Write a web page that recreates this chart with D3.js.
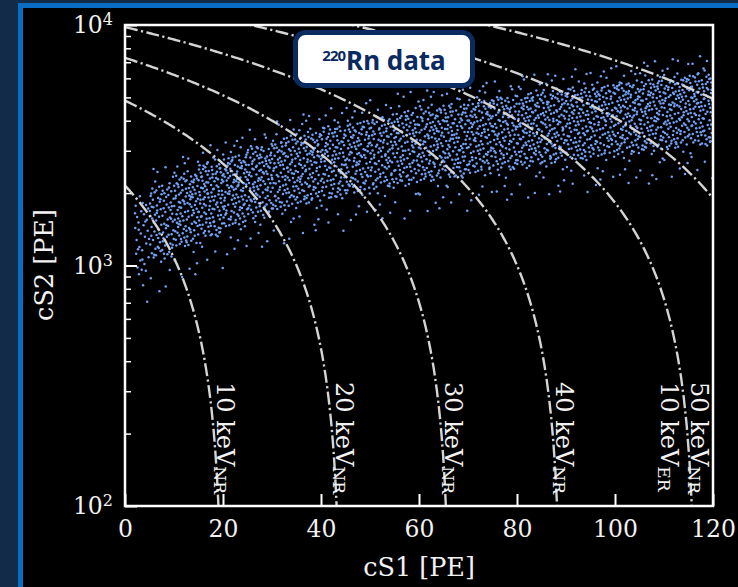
<!DOCTYPE html>
<html><head><meta charset="utf-8">
<script src="https://cdn.jsdelivr.net/npm/d3@7"></script>
<style>html,body{margin:0;padding:0;background:#112b49;overflow:hidden}</style>
</head><body><svg id="c" width="738" height="587"></svg>
<script>
// ---- data ----
const xTickValues = [0, 20, 40, 60, 80, 100, 120];
const yMajorTicks = [100, 1000, 10000];
const yMajorExponents = ["2", "3", "4"];
const yMinorTicks = [200,300,400,500,600,700,800,900,2000,3000,4000,5000,6000,7000,8000,9000];

// energy contours: straight lines cS2 = s2AtZero * (1 - cS1 / s1AtZero)
const contourEnergy   = ["10", "20", "30", "40", "50", "60", "70"];
const contourLabelled = [true, true, true, true, true, false, false];
const contourS2AtZero = [2150, 4850, 7300, 9800, 12830, 15100, 18130];
const contourS1AtZero = [20.0, 44.1, 66.4, 89.1, 116.6, 137.3, 164.8];

// scatter band of 220Rn events, summarised per cS1 bin
const bandS1Start = [2, 5, 10, 15, 20, 25, 30, 35, 40, 45, 50, 55, 60, 65, 70, 75, 80, 85, 90, 95, 100, 105, 110, 115];
const bandS1End   = [5, 10, 15, 20, 25, 30, 35, 40, 45, 50, 55, 60, 65, 70, 75, 80, 85, 90, 95, 100, 105, 110, 115, 120];
const bandCount   = [35, 100, 120, 125, 125, 120, 115, 115, 110, 110, 110, 110, 115, 115, 115, 115, 120, 120, 115, 115, 120, 120, 120, 120];
const bandP05     = [900, 1060, 1200, 1320, 1450, 1570, 1690, 1800, 1900, 1980, 2080, 2160, 2240, 2320, 2410, 2500, 2580, 2660, 2740, 2820, 2900, 2980, 3070, 3150];
const bandP50     = [1340, 1550, 1740, 1910, 2100, 2270, 2450, 2600, 2750, 2880, 3020, 3140, 3260, 3350, 3490, 3620, 3730, 3840, 3950, 4070, 4180, 4300, 4430, 4550];
const bandP95     = [1850, 2150, 2420, 2650, 2900, 3150, 3400, 3600, 3800, 4000, 4200, 4380, 4550, 4700, 4880, 5050, 5200, 5350, 5500, 5650, 5800, 5950, 6100, 6250];

// ---- drawing ----
const svg = d3.select("#c");
const W = 738, H = 587;
const X0 = 125, X1 = 713, Y0 = 25, Y1 = 506;
const serif = "'DejaVu Serif', serif";

svg.append("rect").attr("width", W).attr("height", H).attr("fill", "#112b49");
svg.append("rect").attr("x", 18).attr("y", 3).attr("width", W).attr("height", H).attr("fill", "#0b6cc3");
svg.append("rect").attr("x", 23).attr("y", 8).attr("width", W).attr("height", H).attr("fill", "#000");

const x = d3.scaleLinear().domain([0, 120]).range([X0, X1]);
const y = d3.scaleLog().domain([100, 10000]).range([Y1, Y0]);

svg.append("defs").append("clipPath").attr("id", "plotclip")
  .append("rect").attr("x", X0).attr("y", Y0).attr("width", X1 - X0).attr("height", Y1 - Y0);

// scatter points (deterministic low-discrepancy placement within each bin)
function halton(i, b) { let f = 1, r = 0; while (i > 0) { f /= b; r += f * (i % b); i = Math.floor(i / b); } return r; }
const pts = [];
bandCount.forEach((n, b) => {
  const qs = [0, 0.05, 0.5, 0.95, 1];
  const vs = [Math.log10(bandP05[b]) - 0.14, Math.log10(bandP05[b]), Math.log10(bandP50[b]), Math.log10(bandP95[b]), Math.log10(bandP95[b]) + 0.08];
  const inv = d3.scaleLinear().domain(qs).range(vs);
  for (let i = 0; i < n; i++) {
    const k = i + 1 + b * 389;
    const s1 = bandS1Start[b] + (bandS1End[b] - bandS1Start[b]) * halton(k, 2);
    const s2 = Math.pow(10, inv(halton(k, 3)));
    pts.push([s1, s2]);
  }
});
const plot = svg.append("g").attr("clip-path", "url(#plotclip)");
plot.append("g").selectAll("circle").data(pts).join("circle")
  .attr("cx", d => x(d[0])).attr("cy", d => y(d[1])).attr("r", 1.25)
  .attr("fill", "#72a1f5");

// contour lines
const line = d3.line().x(d => x(d[0])).y(d => y(d[1]));
contourS2AtZero.forEach((s2z, i) => {
  const s1z = contourS1AtZero[i];
  const s1max = Math.min(s1z * (1 - 90 / s2z), 125);
  const seg = d3.range(0, 201).map(j => {
    const s1 = s1max * j / 200;
    return [s1, s2z * (1 - s1 / s1z)];
  });
  plot.append("path").datum(seg).attr("d", line)
    .attr("fill", "none").attr("stroke", "#d4d4d4").attr("stroke-width", 2.4)
    .attr("stroke-dasharray", "13,3.4,2.2,3.4");
});

// contour labels
function curveX(i, s2) { return x(contourS1AtZero[i] * (1 - s2 / contourS2AtZero[i])); }
function addLabel(xp, main, sub) {
  const t = svg.append("text").attr("transform", `translate(${xp},382) rotate(90)`)
    .attr("font-family", serif).attr("font-size", 24).attr("fill", "#f2f2f2");
  t.append("tspan").text(main);
  t.append("tspan").text(sub).attr("font-size", 17).attr("dy", 3);
}
contourEnergy.forEach((e, i) => {
  if (!contourLabelled[i]) return;
  addLabel(curveX(i, 188) + 3, e + " keV", "NR");
});
addLabel(curveX(4, 188) - 27, "10 keV", "ER");

// axes
const xAxis = d3.axisBottom(x).tickValues(xTickValues).tickSizeInner(-12).tickSizeOuter(0).tickPadding(14);
const gx = svg.append("g").attr("transform", `translate(0,${Y1})`).call(xAxis);
gx.select(".domain").remove();
gx.selectAll(".tick line").attr("stroke", "#fff").attr("stroke-width", 2);
gx.selectAll(".tick text").attr("fill", "#f2f2f2").attr("font-family", serif).attr("font-size", 23.5);

const gyMinor = svg.append("g").attr("transform", `translate(${X0},0)`)
  .call(d3.axisLeft(y).tickValues(yMinorTicks).tickSizeInner(-6).tickSizeOuter(0).tickFormat(""));
gyMinor.select(".domain").remove();
gyMinor.selectAll(".tick line").attr("stroke", "#fff").attr("stroke-width", 1.5);

const gy = svg.append("g").attr("transform", `translate(${X0},0)`)
  .call(d3.axisLeft(y).tickValues(yMajorTicks).tickSizeInner(-12).tickSizeOuter(0).tickPadding(12).tickFormat(""));
gy.select(".domain").remove();
gy.selectAll(".tick line").attr("stroke", "#fff").attr("stroke-width", 2);
gy.selectAll(".tick text").each(function(d, i) {
  const t = d3.select(this).attr("fill", "#f2f2f2").attr("font-family", serif).attr("font-size", 23.5);
  t.append("tspan").text("10");
  t.append("tspan").text(yMajorExponents[i]).attr("font-size", 16).attr("dy", "-0.5em");
});

// frame
svg.append("rect").attr("x", X0).attr("y", Y0).attr("width", X1 - X0).attr("height", Y1 - Y0)
  .attr("fill", "none").attr("stroke", "#fff").attr("stroke-width", 2.5);

// axis titles
svg.append("text").attr("x", 419).attr("y", 576).attr("text-anchor", "middle")
  .attr("font-family", serif).attr("font-size", 25.5).attr("fill", "#f2f2f2").text("cS1 [PE]");
svg.append("text").attr("transform", "translate(53,265) rotate(-90)").attr("text-anchor", "middle")
  .attr("font-family", serif).attr("font-size", 25.5).attr("fill", "#f2f2f2").text("cS2 [PE]");

// title badge
svg.append("rect").attr("x", 295.5).attr("y", 32.5).attr("width", 177).attr("height", 53).attr("rx", 10)
  .attr("fill", "#fff").attr("stroke", "#0b2a60").attr("stroke-width", 5);
const tt = svg.append("text").attr("x", 384).attr("y", 70).attr("text-anchor", "middle")
  .attr("font-family", "'Noto Sans', sans-serif").attr("font-weight", 700).attr("fill", "#0b2a60");
tt.append("tspan").text("220").attr("font-size", 15).attr("dy", -9).attr("letter-spacing", -1);
tt.append("tspan").text("Rn data").attr("font-size", 26).attr("dy", 9).attr("dx", 1);
</script></body></html>
